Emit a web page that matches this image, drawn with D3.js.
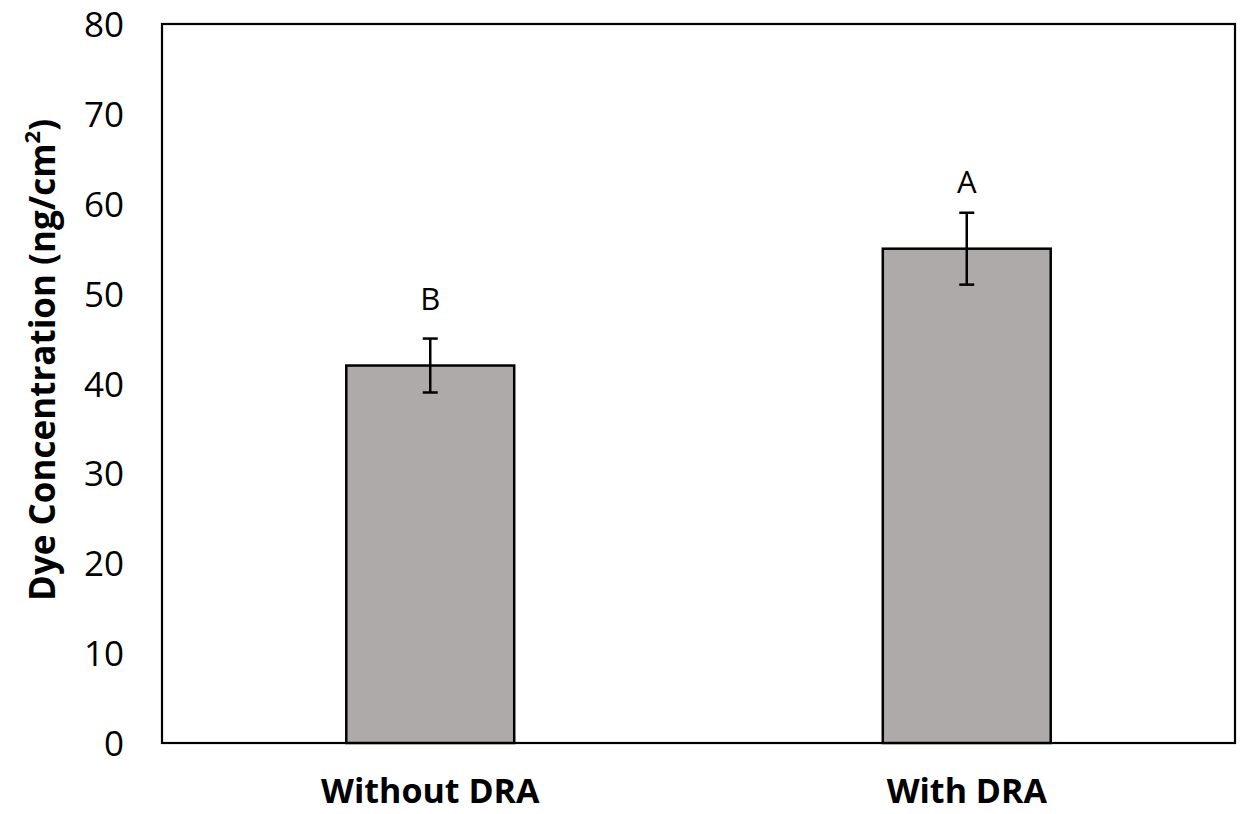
<!DOCTYPE html>
<html>
<head>
<meta charset="utf-8">
<script src="https://cdn.jsdelivr.net/npm/d3@7"></script>
<style>
  body { margin: 0; background: #fff; }
  text { font-family: "Open Sans", "Noto Sans", sans-serif; fill: #000; }
</style>
</head>
<body>
<div id="chart"></div>
<script>

// data
const categories = ["Without DRA", "With DRA"];
const means = [42, 55];
const errors = [3, 4];
const letters = ["B", "A"];
const yTicks = [0, 10, 20, 30, 40, 50, 60, 70, 80];

const width = 1243, height = 814;
const margin = {top: 24, right: 8, bottom: 71, left: 162};

const svg = d3.select("#chart").append("svg")
    .attr("width", width)
    .attr("height", height);

const x = d3.scaleBand()
    .domain(categories)
    .range([margin.left, width - margin.right])
    .padding(0);

const y = d3.scaleLinear()
    .domain([0, 80])
    .range([height - margin.bottom, margin.top]);

const barW = x.bandwidth() * 0.313;

// frame
svg.append("rect")
    .attr("x", margin.left)
    .attr("y", margin.top)
    .attr("width", width - margin.left - margin.right)
    .attr("height", height - margin.top - margin.bottom)
    .attr("fill", "none")
    .attr("stroke", "#000")
    .attr("stroke-width", 2.2);

// y axis tick labels
const yAxis = d3.axisLeft(y).tickValues(yTicks).tickSize(0).tickPadding(38);
const gy = svg.append("g")
    .attr("transform", "translate(" + margin.left + ",0)")
    .call(yAxis);
gy.select(".domain").remove();
gy.selectAll("text")
    .style("font-size", "35px")
    .attr("fill", "#000")
    .attr("dy", "0.36em");

// x axis labels
const xAxis = d3.axisBottom(x).tickSize(0).tickPadding(39);
const gx = svg.append("g")
    .attr("transform", "translate(0," + y(0) + ")")
    .call(xAxis);
gx.select(".domain").remove();
gx.selectAll("text")
    .style("font-size", "34px")
    .style("font-weight", "bold")
    .attr("fill", "#000")
    .attr("dy", "0")
    .attr("y", 60);

// bars
const data = categories.map((c, i) => ({cat: c, v: means[i], e: errors[i], l: letters[i]}));

svg.append("g")
    .selectAll("rect")
    .data(data)
    .join("rect")
    .attr("x", d => x(d.cat) + x.bandwidth() / 2 - barW / 2)
    .attr("y", d => y(d.v))
    .attr("width", barW)
    .attr("height", d => y(0) - y(d.v))
    .attr("fill", "#AEAAAA")
    .attr("stroke", "#000")
    .attr("stroke-width", 2.5);

// error bars
const eb = svg.append("g")
    .selectAll("g")
    .data(data)
    .join("g")
    .attr("transform", d => "translate(" + (x(d.cat) + x.bandwidth() / 2) + ",0)");

eb.append("line")
    .attr("y1", d => y(d.v + d.e))
    .attr("y2", d => y(d.v - d.e))
    .attr("stroke", "#000")
    .attr("stroke-width", 2.5);
eb.append("line")
    .attr("x1", -7.5).attr("x2", 7.5)
    .attr("y1", d => y(d.v + d.e)).attr("y2", d => y(d.v + d.e))
    .attr("stroke", "#000")
    .attr("stroke-width", 2.5);
eb.append("line")
    .attr("x1", -7.5).attr("x2", 7.5)
    .attr("y1", d => y(d.v - d.e)).attr("y2", d => y(d.v - d.e))
    .attr("stroke", "#000")
    .attr("stroke-width", 2.5);

// significance letters, placed above the bar top like Excel data labels
eb.append("text")
    .attr("y", d => y(d.v) - 56)
    .attr("text-anchor", "middle")
    .style("font-size", "31px")
    .text(d => d.l);

// y axis title
const title = svg.append("text")
    .attr("transform", "translate(55,360) rotate(-90)")
    .attr("text-anchor", "middle")
    .style("font-size", "35px")
    .style("font-weight", "bold");
title.append("tspan").text("Dye Concentration (ng/cm");
title.append("tspan")
    .attr("baseline-shift", "super")
    .style("font-size", "22px")
    .text("2");
title.append("tspan").text(")");

</script>
</body>
</html>
